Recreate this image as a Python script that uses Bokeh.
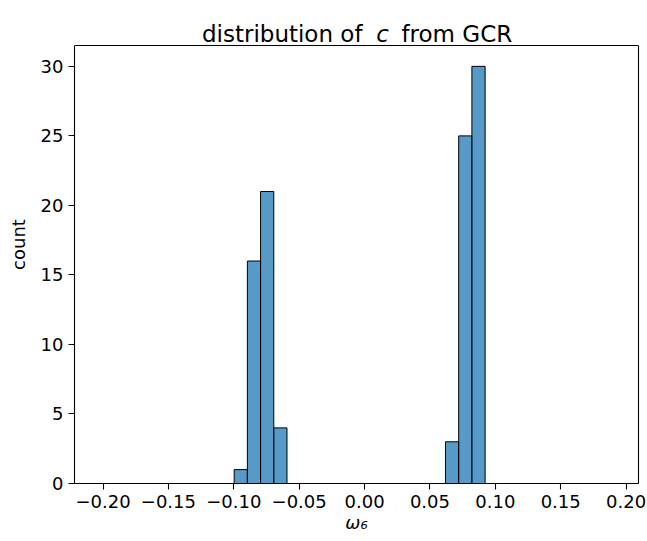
from bokeh.plotting import figure
from bokeh.models import FixedTicker, Label, Range1d, LinearAxis, Span
from bokeh.embed import file_html
from bokeh.resources import INLINE

# ---- data ----
bin_left = [-0.0997, -0.0896, -0.0795, -0.0694, 0.0619, 0.0720, 0.0821]
bin_right = [-0.0896, -0.0795, -0.0694, -0.0593, 0.0720, 0.0821, 0.0922]
counts = [1, 16, 21, 4, 3, 25, 30]

x_ticks = [-0.20, -0.15, -0.10, -0.05, 0.00, 0.05, 0.10, 0.15, 0.20]
x_tick_labels = ["−0.20", "−0.15", "−0.10", "−0.05", "0.00", "0.05", "0.10", "0.15", "0.20"]
y_ticks = [0, 5, 10, 15, 20, 25, 30]

title_left = "distribution of"
title_var = "c"
title_right = "from GCR"
x_label = "ω₆"
y_label = "count"

FONT = "DejaVu Sans"
TICK_SIZE = "18px"
TITLE_SIZE = "23px"

W, H = 647, 541
BL, BR, BT, BB = 74, 9, 5, 58     # BT: canvas top of the (extended) frame
AXES_TOP = 45                      # pixel row of the visible axes box top
Y_MAX = 31.5                       # y limit of the axes box

x_range = Range1d(-0.2218, 0.2095)
frame_h = H - BT - BB
box_h = H - AXES_TOP - BB
y_range = Range1d(0, Y_MAX * frame_h / box_h)   # extra headroom holds the title

p = figure(width=W, height=H, x_range=x_range, y_range=y_range,
           output_backend="svg", toolbar_location=None, title=None,
           min_border_left=BL, min_border_right=BR, min_border_top=BT, min_border_bottom=BB)

p.background_fill_color = "white"
p.border_fill_color = "white"
p.outline_line_color = None
p.xgrid.visible = False
p.ygrid.visible = False

p.quad(left=bin_left, right=bin_right, bottom=0, top=counts,
       fill_color="#1f77b4", fill_alpha=0.75, line_color="black", line_width=1)

for ax in (p.xaxis[0], p.yaxis[0]):
    ax.axis_line_color = "black"
    ax.axis_line_width = 1.1
    ax.major_tick_line_color = "black"
    ax.major_tick_line_width = 1.1
    ax.major_tick_in = 0
    ax.major_tick_out = 6
    ax.minor_tick_line_color = None
    ax.major_label_text_font = FONT
    ax.major_label_text_font_size = TICK_SIZE
    ax.major_label_text_color = "black"
    ax.major_label_standoff = 5
    ax.axis_label_text_font = FONT
    ax.axis_label_text_font_size = TICK_SIZE
    ax.axis_label_text_font_style = "normal"
    ax.axis_label_text_color = "black"

p.xaxis.ticker = FixedTicker(ticks=x_ticks)
p.xaxis.major_label_overrides = {t: s for t, s in zip(x_ticks, x_tick_labels)}
p.yaxis.ticker = FixedTicker(ticks=y_ticks)
p.yaxis.bounds = (0, Y_MAX)
p.xaxis.axis_label = x_label
p.xaxis.axis_label_standoff = 1
p.xaxis.axis_label_text_font_style = "italic"
p.yaxis.axis_label = y_label
p.yaxis.axis_label_standoff = 9

# box: right edge (tickless axis) and top edge
right_edge = LinearAxis(bounds=(0, Y_MAX), ticker=FixedTicker(ticks=[]),
                        axis_line_color="black", axis_line_width=1.1,
                        major_tick_line_color=None, minor_tick_line_color=None,
                        major_label_text_font_size="0px")
p.add_layout(right_edge, "right")
p.add_layout(Span(location=Y_MAX, dimension="width", line_color="black", line_width=1.1))

# title with an italic variable, centred over the box
xc = (x_range.start + x_range.end) / 2
common = dict(x=xc, y=Y_MAX, x_units="data", y_units="data", y_offset=12,
              text_baseline="alphabetic", text_font=FONT, text_font_size=TITLE_SIZE,
              text_color="black")
p.add_layout(Label(text=title_left, text_align="right", x_offset=6, **common))
p.add_layout(Label(text=title_var, text_align="center", x_offset=26,
                   text_font_style="italic", **common))
p.add_layout(Label(text=title_right, text_align="left", x_offset=45, **common))

open("out.html", "w").write(file_html(p, INLINE))
